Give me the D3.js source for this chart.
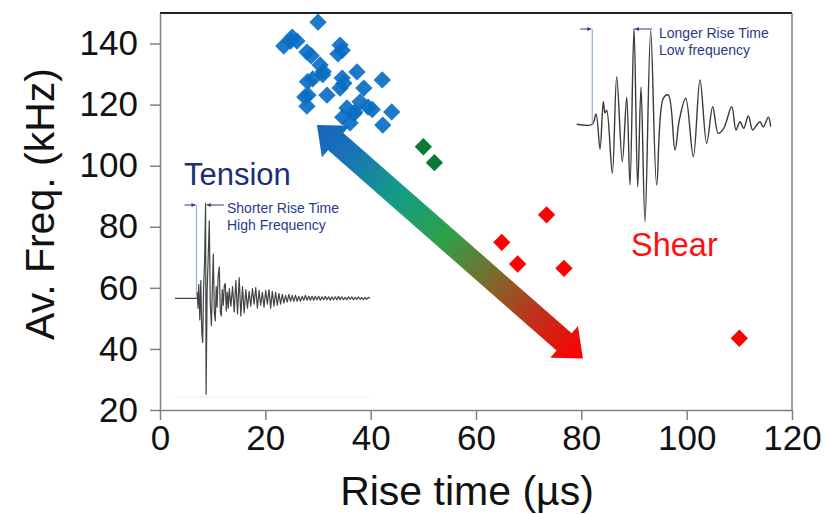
<!DOCTYPE html>
<html><head><meta charset="utf-8">
<script src="https://cdn.jsdelivr.net/npm/d3@7"></script>
<style>
html,body{margin:0;padding:0;background:#fff;}
svg{display:block;font-family:"Liberation Sans",Arial,sans-serif;}
</style></head>
<body><svg id="c" width="827" height="514"></svg>
<script>
// ---- data ----
const xTicks = [0,20,40,60,80,100,120];
const yTicks = [20,40,60,80,100,120,140];
const tensionX = [30.0,23.5,24.8,25.1,26.0,27.9,28.7,34.2,34.6,33.8,30.4,31.0,30.9,29.0,28.0,37.4,34.6,34.9,34.2,42.2,38.7,31.7,28.1,27.5,27.9,35.5,36.8,38.0,39.5,37.0,40.3,44.0,42.3,36.1,34.7];
const tensionY = [147.0,139.2,140.8,142.1,140.8,137.2,136.0,139.5,137.8,136.6,133.0,130.8,129.8,128.4,127.5,130.7,128.7,127.0,125.4,128.1,125.4,123.1,123.1,122.5,119.5,118.9,117.0,120.9,119.2,117.6,118.4,117.6,113.3,114.0,115.9];
const mixedX = [50.0,52.1];
const mixedY = [106.2,101.0];
const shearX = [73.4,64.9,67.9,76.7,110.0];
const shearY = [83.9,74.9,67.8,66.4,43.5];
const arrowFrom = [29.8,113.3];
const arrowTo = [80.3,36.9];
// inset waveforms (local time / amplitude units)
const tensionWaveHead = [[0,0],[21.5,0],[22.3,6],[23,-10],[23.8,14],[24.8,-22],[25.8,18],[26.8,-35],[27.7,-45],[28.6,10],[29.6,38],[30.6,97],[31.1,-98],[32.1,6],[33.2,42],[34.3,79],[35.3,-6],[36.4,-28],[37.4,12],[38.3,45],[39.3,-14],[40.3,-23],[41.2,12],[42.1,-9],[43.1,22],[44.3,32],[45.3,-14],[46.3,-18],[47.3,9],[48.3,-7],[49.3,13],[50.3,15],[51.3,-13],[52.3,6],[53.3,-10],[54.3,10]];
const tensionWaveTail = [-8,12,-14,18,-16,21,-18,12,-15,9,-10,7,-8,10,-6,11,-10,8,-7,6,-9,8,-6,9,-10,7,-8,6,-7,5,-6,4,-5,3,-4,4,-3,3,-3,3,-3,2,-3,2,-2,3,-2,2,-2,2,-2,2,-1.5,2,-2,1.5,-1.5,2,-1.5,1.5,-2,1.5,-1.5,1.5,-1.5,2,-1.5,1.5,-1.5,1,-1.5,1.5,-1,1.5,-1.5,1,-1,1.5,-1,1,-1.5,1,-1,1,0];
const shearWave = [[0,0],[15.6,0],[19.3,10.3],[23.3,-24.7],[26.6,22.6],[28.3,11.3],[30,14],[35.6,-49],[40,47.6],[45.6,-37.4],[50,27],[53.3,-60.7],[57.3,96],[61,-62.4],[64.3,37],[68.3,-97.4],[74,93.6],[80,-60.7],[86.6,26],[91.6,29.3],[98.3,-25.7],[102.6,4.3],[109,26],[116.6,-32.4],[123.3,44.3],[130,-19],[136,17.6],[141.6,-9],[147,-4],[155,17.6],[159.3,-5.7],[163.3,2.6],[167,-4],[171.6,8.3],[176,-5.7],[180,-0.7],[183.3,2.6],[186.6,-2.7],[191.6,7],[194,-2.4]];

const svg = d3.select("#c");
const x = d3.scaleLinear().domain([0,120]).range([160,792]);
const y = d3.scaleLinear().domain([20,150]).range([410,13]);
const axisColor = "#808080";

// frame top/right
svg.append("line").attr("x1",x(0)).attr("x2",x(120)).attr("y1",y(150)).attr("y2",y(150)).attr("stroke","#222").attr("stroke-width",2);
svg.append("line").attr("x1",x(120)).attr("x2",x(120)).attr("y1",y(150)).attr("y2",y(20)).attr("stroke",axisColor).attr("stroke-width",1.5);

const gx = svg.append("g").attr("transform",`translate(0,${y(20)})`)
  .call(d3.axisBottom(x).tickValues(xTicks).tickSize(10).tickSizeOuter(0).tickPadding(5));
const gy = svg.append("g").attr("transform",`translate(${x(0)},0)`)
  .call(d3.axisLeft(y).tickValues(yTicks).tickSize(10).tickSizeOuter(0).tickPadding(12));
[gx,gy].forEach(g=>{
  g.selectAll("path,line").attr("stroke",axisColor).attr("stroke-width",1.5);
  g.selectAll("text").attr("font-size",35).attr("fill","#111").attr("font-family","'Liberation Sans',Arial,sans-serif");
});

svg.append("text").attr("x",467).attr("y",505).attr("text-anchor","middle").attr("font-size",41).attr("fill","#111").text("Rise time (µs)");
svg.append("text").attr("transform","translate(54,204) rotate(-90)").attr("text-anchor","middle").attr("font-size",41).attr("fill","#111").text("Av. Freq. (kHz)");

// ---- inset waveforms ----
function inset(wave, curve, box, color, sw){
  const tx = d3.scaleLinear().domain([0,box.t]).range([box.x0, box.x0+box.w]);
  const ay = d3.scaleLinear().domain([-100,100]).range([box.base+box.h, box.base-box.h]);
  svg.append("path").attr("d", d3.line().x(d=>tx(d[0])).y(d=>ay(d[1])).curve(curve)(wave))
    .attr("fill","none").attr("stroke",color).attr("stroke-width",sw).attr("stroke-linejoin","round");
  return {tx, ay};
}
const tail0 = 55.9, tailStep = (195-tail0)/(tensionWaveTail.length-1);
const tensionWave = tensionWaveHead.concat(tensionWaveTail.map((a,i)=>[tail0+i*tailStep,a]));
const markBlue = "#8fb3e0", navy = "#2b3a8a";

function marks(box, sc, tStart, tPeak, y0){
  const {tx, ay} = sc;
  svg.append("line").attr("x1",tx(tStart)).attr("x2",tx(tStart)).attr("y1",y0).attr("y2",box.base).attr("stroke",markBlue).attr("stroke-width",1.2);
  svg.append("line").attr("x1",tx(tStart)-12).attr("x2",tx(tStart)-1).attr("y1",y0).attr("y2",y0).attr("stroke",navy).attr("stroke-width",1);
  svg.append("path").attr("d",`M${tx(tStart)-1},${y0} l-4,-2 v4 z`).attr("fill",navy);
  svg.append("line").attr("x1",tx(tPeak)+1).attr("x2",tx(tPeak)+18).attr("y1",y0).attr("y2",y0).attr("stroke",navy).attr("stroke-width",1);
  svg.append("path").attr("d",`M${tx(tPeak)+1},${y0} l4,-2 v4 z`).attr("fill",navy);
}
const tBox = {x0:175, w:195, t:195, base:298.3, h:98};
svg.append("line").attr("x1",175).attr("x2",370).attr("y1",397).attr("y2",397).attr("stroke","#ececec").attr("stroke-width",1);
const tSc = inset(tensionWave, d3.curveLinear, tBox, "#444", 1.2);
marks(tBox, tSc, 21.5, 30.8, 205);
const sBox = {x0:576.7, w:194, t:194, base:124.3, h:100};
const sSc = inset(shearWave, d3.curveCatmullRom.alpha(0.5), sBox, "#3a3a3a", 1.4);
marks(sBox, sSc, 15.6, 57.3, 29);

svg.append("text").attr("x",227).attr("y",213).attr("font-size",14).attr("fill",navy).text("Shorter Rise Time");
svg.append("text").attr("x",227).attr("y",230).attr("font-size",14).attr("fill",navy).text("High Frequency");
svg.append("text").attr("x",659).attr("y",38).attr("font-size",14).attr("fill",navy).text("Longer Rise Time");
svg.append("text").attr("x",659).attr("y",55).attr("font-size",14).attr("fill",navy).text("Low frequency");

svg.append("text").attr("x",184).attr("y",185).attr("font-size",31).attr("fill","#1b2f73").text("Tension");
svg.append("text").attr("x",631).attr("y",256).attr("font-size",32.5).attr("fill","#ff1010").text("Shear");

// ---- gradient double arrow ----
const p1 = [x(arrowFrom[0]), y(arrowFrom[1])], p2 = [x(arrowTo[0]), y(arrowTo[1])];
const defs = svg.append("defs");
const dx=p2[0]-p1[0], dy=p2[1]-p1[1], L=Math.hypot(dx,dy), ang=Math.atan2(dy,dx)*180/Math.PI;
const hl=25, hw=21, sw2=11.5;
const arrowPts = [[0,0],[hl,-hw],[hl,-sw2],[L-hl,-sw2],[L-hl,-hw],[L,0],[L-hl,hw],[L-hl,sw2],[hl,sw2],[hl,hw]];
const ag = svg.append("g").attr("transform",`translate(${p1[0]},${p1[1]}) rotate(${ang})`);
const lg = defs.append("linearGradient").attr("id","ag2").attr("gradientUnits","userSpaceOnUse").attr("x1",0).attr("y1",0).attr("x2",L).attr("y2",0);
[[0,"#1565c0"],[0.12,"#1a72b8"],[0.3,"#139c86"],[0.48,"#2ea14a"],[0.66,"#7d6a2c"],[0.82,"#c0301c"],[1,"#ff0000"]]
  .forEach(s=>lg.append("stop").attr("offset",s[0]).attr("stop-color",s[1]));
ag.append("path").attr("d", d3.line()(arrowPts)+"Z").attr("fill","url(#ag2)");

// ---- points ----
const diamond = d3.symbol().type(d3.symbolSquare).size(150);
function pts(xs, ys, color, op){
  svg.append("g").selectAll("path").data(xs.map((v,i)=>[v,ys[i]])).join("path")
    .attr("d",diamond).attr("transform",d=>`translate(${x(d[0])},${y(d[1])}) rotate(45)`)
    .attr("fill",color).attr("fill-opacity",op);
}
pts(tensionX, tensionY, "#0a6ec4", 0.92);
pts(mixedX, mixedY, "#0a7a36", 1);
pts(shearX, shearY, "#ff0000", 1);
</script></body></html>
